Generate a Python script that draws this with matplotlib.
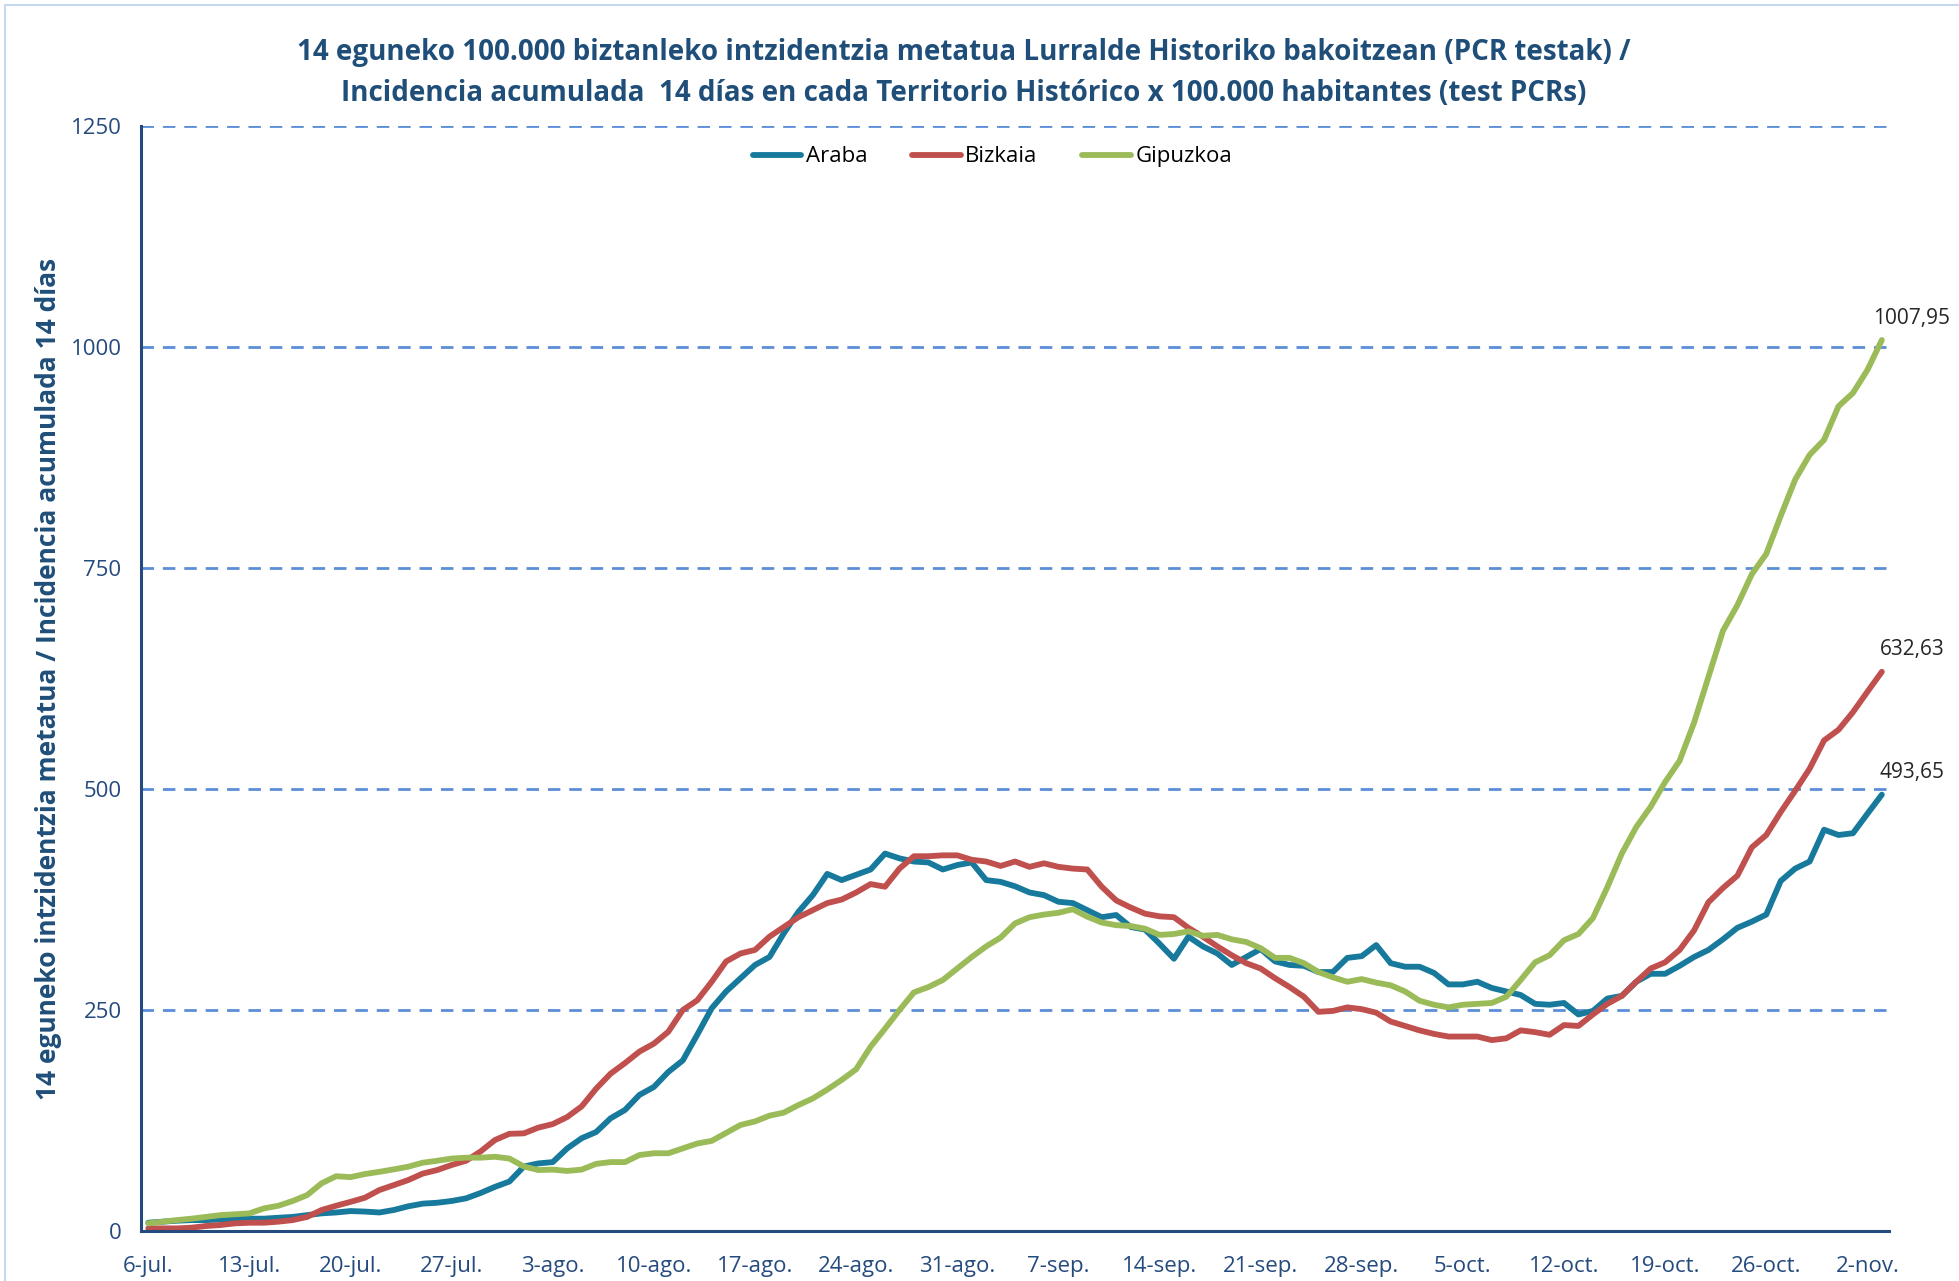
import matplotlib
matplotlib.use("Agg")
import matplotlib.pyplot as plt
import numpy as np
import pandas as pd

plt.rcParams["font.family"] = ["Liberation Sans Narrow", "Open Sans", "DejaVu Sans"]

dates = pd.date_range("2020-07-06", periods=121, freq="D")

araba = [
    9.4, 10.6, 11.7, 12.4, 12.4, 13, 13.8, 14, 14, 15,
    16, 18, 20, 21, 22.6, 22, 21, 23.8, 28, 31,
    32, 34, 37, 43, 50, 56, 73, 76.5, 78, 93.5,
    105, 112, 127.5, 137, 154, 163, 180, 193, 222, 252,
    271, 286, 301, 310, 337, 361, 380, 404, 397, 403,
    409, 427, 421.6, 418, 417, 409, 414, 417, 397, 395,
    390, 383, 380, 372.5, 371, 363, 355, 357.5, 344, 341,
    325, 308, 333, 322, 314, 301, 310, 319, 305, 301,
    300, 293, 293, 309, 311, 323.5, 303, 299, 299, 292,
    279, 279, 282, 275, 271, 267, 257, 256, 258, 245,
    249, 263, 266, 282, 291, 291, 300, 310, 318, 330,
    343, 350, 358, 396, 410, 418, 454, 448, 450, 472,
    493.65,
]

bizkaia = [
    3, 3, 3, 3.8, 5.7, 6.8, 8.7, 9.4, 9.4, 10.6,
    12.4, 16, 23.8, 28.6, 33, 37.7, 46.4, 52, 57.7, 65,
    69, 74.7, 79.5, 90, 103, 110, 110.5, 117, 121, 129,
    141, 161, 178, 190, 203, 212, 225.5, 250, 261, 282,
    305, 314, 318, 333, 344, 355, 363, 371, 375, 383,
    392.5, 389.5, 410, 424, 424, 425, 425, 420, 418, 413,
    418, 412, 416, 412, 410, 409, 389.5, 374, 366, 359,
    356, 355, 343, 333, 322, 312, 303, 297, 286, 276,
    265, 248, 249, 253, 251, 247, 237, 232, 227, 223,
    220, 220, 220, 216, 218, 227, 225, 222, 233, 232,
    245, 257, 266, 282, 297, 304, 318, 340, 372, 388,
    402, 434, 448, 474, 498, 523, 555, 567, 587, 610,
    632.63,
]

gipuzkoa = [
    8.7, 10.6, 12.4, 14, 16, 18, 19, 20, 25.6, 28.6,
    34, 40.7, 54, 62, 61, 64.5, 67, 69.8, 72.8, 77.3,
    79.5, 82, 83, 83, 84, 82, 73, 69, 69.5, 68,
    69.5, 76, 78, 78, 86, 88, 88, 93.5, 99, 102,
    111, 120, 124, 130.5, 134, 142.5, 150, 160, 171, 183,
    208.5, 229, 250, 270, 276, 284, 297, 310, 322, 332,
    348, 355, 358, 360, 364, 355.6, 349, 346, 345, 342,
    335, 336, 339, 334, 335, 330, 327, 320, 309, 309,
    303, 293, 287, 282, 285, 281, 278, 271, 260.5, 256,
    253, 256, 257, 258, 265, 284, 304, 312, 329, 336,
    354, 389, 427, 457, 480, 508, 532, 575, 627, 679,
    708, 743, 766, 809, 850, 878, 895, 933, 948, 974,
    1007.95,
]

tick_labels = ["6-jul.", "13-jul.", "20-jul.", "27-jul.", "3-ago.", "10-ago.",
               "17-ago.", "24-ago.", "31-ago.", "7-sep.", "14-sep.", "21-sep.",
               "28-sep.", "5-oct.", "12-oct.", "19-oct.", "26-oct.", "2-nov."]
y_ticks = [0, 250, 500, 750, 1000, 1250]

series = [
    ("Araba", araba, "#17799C"),
    ("Bizkaia", bizkaia, "#C0504D"),
    ("Gipuzkoa", gipuzkoa, "#9BBB59"),
]

navy = "#1F4E79"
axis_blue = "#254A7E"

fig = plt.figure(figsize=(19.59, 12.81), dpi=100)
ax = fig.add_axes([0.072, 0.039, 0.8923, 0.8626])

x = np.arange(len(dates))
for name, vals, color in series:
    ax.plot(x, vals, color=color, lw=4.2, label=name, solid_capstyle="round",
            solid_joinstyle="round", zorder=3)
    ax.annotate(f"{vals[-1]:.2f}".replace(".", ","), (x[-1], vals[-1]),
                xytext=(30, 22), textcoords="offset pixels", ha="center",
                va="center", fontsize=15, color="#262626")

ax.set_xlim(-0.5, len(dates) - 0.5)
ax.set_ylim(0, 1250)
ax.set_yticks(y_ticks)
ax.set_yticklabels([str(v) for v in y_ticks], fontsize=16, color=axis_blue)
ax.set_xticks(x[::7])
ax.set_xticklabels(tick_labels, fontsize=16, color=axis_blue)
ax.tick_params(axis="x", length=0, pad=18)
ax.tick_params(axis="y", length=0, pad=14)

ax.grid(axis="y", color="#5B8ED6", linestyle=(0, (4.5, 3.2)), lw=2.0, zorder=1)
ax.grid(axis="x", visible=False)
for side in ["top", "right"]:
    ax.spines[side].set_visible(False)
for side in ["left", "bottom"]:
    ax.spines[side].set_color(axis_blue)
    ax.spines[side].set_linewidth(2.2)
    ax.spines[side].set_zorder(4)

ax.set_ylabel("14 eguneko intzidentzia metatua / Incidencia acumulada 14 días",
              fontsize=19, fontweight="bold", color=navy, labelpad=6)

fig.text(0.492, 0.943,
         "14 eguneko 100.000 biztanleko intzidentzia metatua Lurralde Historiko bakoitzean (PCR testak) /\n"
         "Incidencia acumulada  14 días en cada Territorio Histórico x 100.000 habitantes (test PCRs)",
         ha="center", va="center", fontsize=20, fontweight="bold", color=navy,
         linespacing=1.55)

ax.legend(loc="center", bbox_to_anchor=(0.487, 0.972), ncol=3, frameon=False,
          fontsize=16, handlelength=2.2, handletextpad=0.2, columnspacing=2.0)

fig.patches.append(plt.Rectangle((0.0026, -0.01), 1.1, 1.006, transform=fig.transFigure,
                                 fill=False, edgecolor="#C6D9F1", lw=1.5))

fig.savefig("out.png", dpi=100)
